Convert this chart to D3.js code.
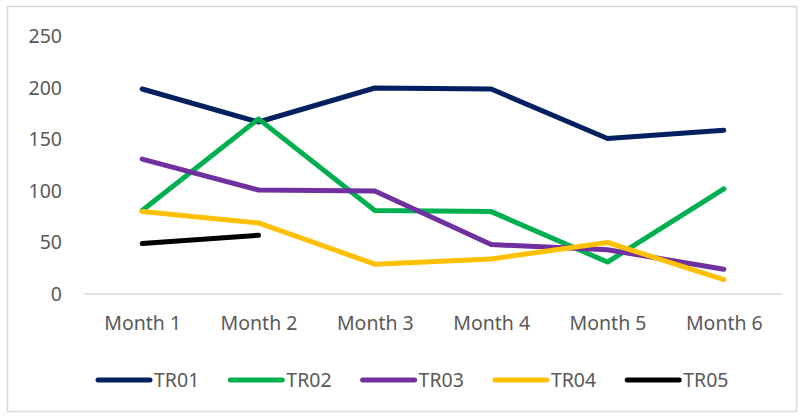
<!DOCTYPE html>
<html>
<head>
<meta charset="utf-8">
<script src="https://cdn.jsdelivr.net/npm/d3@7"></script>
<style>
  body { margin: 0; background: #fff; }
  text { font-family: "Noto Sans", sans-serif; fill: #595959; }
</style>
</head>
<body>
<div id="chart"></div>
<script>
const months = ["Month 1", "Month 2", "Month 3", "Month 4", "Month 5", "Month 6"];
const seriesNames = ["TR01", "TR02", "TR03", "TR04", "TR05"];
const tr01 = [199, 167, 200, 199, 151, 159];
const tr02 = [81, 170, 81, 80, 31, 102];
const tr03 = [131, 101, 100, 48, 43, 24];
const tr04 = [80, 69, 29, 34, 50, 14];
const tr05 = [49, 57, null, null, null, null];
const yTicks = [0, 50, 100, 150, 200, 250];
const colors = ["#002060", "#00B050", "#7030A0", "#FFC000", "#000000"];

const W = 800, H = 417;
const series = [tr01, tr02, tr03, tr04, tr05];

const svg = d3.select("#chart").append("svg")
    .attr("width", W)
    .attr("height", H);

// chart border
svg.append("rect")
    .attr("x", 7.5).attr("y", 6.5)
    .attr("width", 789).attr("height", 405)
    .attr("fill", "none")
    .attr("stroke", "#d9d9d9")
    .attr("stroke-width", 1.5);

const x = d3.scalePoint()
    .domain(months)
    .range([84, 782])
    .padding(0.5);

const y = d3.scaleLinear()
    .domain([0, 250])
    .range([294, 36.5]);

// y axis labels, no line
const yAxis = svg.append("g")
    .attr("transform", "translate(62,0)")
    .call(d3.axisLeft(y).tickValues(yTicks).tickSize(0).tickPadding(0));
yAxis.select(".domain").remove();
yAxis.selectAll("text")
    .style("font-size", "19.5px")
    .attr("fill", "#595959")
    .attr("font-family", "Noto Sans");

// x axis
const xAxis = svg.append("g")
    .attr("transform", "translate(0," + y(0) + ")")
    .call(d3.axisBottom(x).tickSize(0).tickPadding(22));
xAxis.select(".domain")
    .attr("d", "M84,0H782")
    .attr("stroke", "#d9d9d9")
    .attr("stroke-width", 1.5);
xAxis.selectAll("text")
    .style("font-size", "19.5px")
    .attr("fill", "#595959")
    .attr("font-family", "Noto Sans");

const line = d3.line()
    .defined(d => d != null)
    .x((d, i) => x(months[i]))
    .y(d => y(d));

svg.append("g").selectAll("path")
    .data(series)
    .enter().append("path")
      .attr("d", d => line(d))
      .attr("fill", "none")
      .attr("stroke", (d, i) => colors[i])
      .attr("stroke-width", 5)
      .attr("stroke-linejoin", "round")
      .attr("stroke-linecap", "round");

// legend
const legend = svg.append("g")
    .attr("transform", "translate(98,380)");
const item = legend.selectAll("g")
    .data(seriesNames)
    .enter().append("g")
      .attr("transform", (d, i) => "translate(" + (i * 132.3) + ",0)");
item.append("line")
    .attr("x1", 0).attr("x2", 52)
    .attr("y1", 0).attr("y2", 0)
    .attr("stroke", (d, i) => colors[i])
    .attr("stroke-width", 5)
    .attr("stroke-linecap", "round");
item.append("text")
    .attr("x", 56)
    .attr("dy", "0.35em")
    .style("font-size", "19.5px")
    .text(d => d);
</script>
</body>
</html>
